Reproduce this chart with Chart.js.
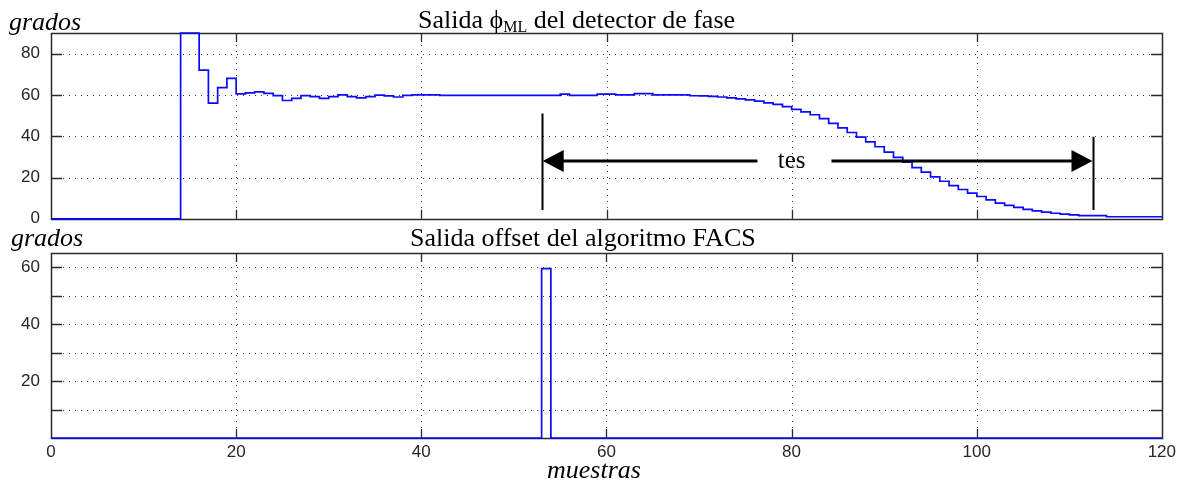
<!DOCTYPE html>
<html>
<head>
<meta charset="utf-8">
<script src="https://cdn.jsdelivr.net/npm/chart.js@4"></script>
<style>
  html, body { margin: 0; padding: 0; background: #fff; }
  body { width: 1180px; height: 484px; position: relative; overflow: hidden; }
  canvas { position: absolute; left: 0; }
  #c1 { top: 0; z-index: 1; }
  #c2 { top: 225px; z-index: 2; }
</style>
</head>
<body>
<canvas id="c1" width="1180" height="240"></canvas>
<canvas id="c2" width="1180" height="259"></canvas>
<script>
// ---- Data (sample index where each step starts, value held until next sample) ----
const samplesTop = [0, 14, 16, 17, 18, 19, 20, 21, 22, 23, 24, 25, 26, 27, 28, 29, 30, 31, 32, 33, 34, 35, 36, 37, 38, 39, 40, 42, 55, 56, 59, 61, 63, 65, 69, 70, 71, 72, 73, 74, 75, 76, 77, 78, 79, 80, 81, 82, 83, 84, 85, 86, 87, 88, 89, 90, 91, 92, 93, 94, 95, 96, 97, 98, 99, 100, 101, 102, 103, 104, 105, 106, 107, 108, 109, 110, 111, 114, 120];
const valuesTop  = [0, 90, 72, 56, 63.5, 68, 60.5, 61, 61.5, 60.8, 59.7, 57.3, 58.3, 59.7, 59.2, 58.3, 59.2, 60, 59.2, 58.6, 59.2, 59.9, 59.5, 59, 59.8, 60, 60, 59.8, 60.4, 59.8, 60.4, 60, 60.6, 60, 59.6, 59.5, 59.3, 59.0, 58.6, 58.1, 57.6, 57.0, 56.2, 55.4, 54.3, 53.0, 51.8, 50.4, 48.5, 46.2, 44.0, 41.8, 39.6, 37.3, 34.9, 32.3, 29.8, 27.4, 24.8, 22.6, 20.3, 18.2, 16.1, 14.2, 12.4, 10.8, 9.2, 7.6, 6.5, 5.5, 4.6, 3.8, 3.2, 2.7, 2.3, 1.9, 1.5, 1.0, 1.0];

const samplesBottom = [0, 53, 54, 120];
const valuesBottom  = [0, 59.5, 0, 0];

const xTicks = [0, 20, 40, 60, 80, 100, 120];
const yTicksTop = [0, 20, 40, 60, 80];
const yTicksBottom = [10, 20, 30, 40, 50, 60];
const yLabelsBottom = [20, 40, 60];

// "tes" annotation (data units of the top plot)
const tesBarX = [53, 112.6];
const tesBarTop = [51, 39.7];
const tesBarBottom = 4.3;
const tesArrowY = 28;
const tesArrowGap = [76.3, 84.3];
const tesLabelX = 80.0;

const topTitle = ['Salida ', '\u03D5', 'ML', ' del detector de fase'];
const bottomTitle = 'Salida offset del algoritmo FACS';
const yAxisTitle = 'grados';
const xAxisTitle = 'muestras';

// ---- helpers ----
const toPoints = (xs, ys) => xs.map((x, i) => ({ x, y: ys[i] }));
const SERIF = '"Liberation Serif", "Times New Roman", "DejaVu Serif", serif';
const SANS = '"Liberation Sans", Arial, sans-serif';

const matlabAxes = {
  id: 'matlabAxes',
  beforeDatasetsDraw(chart) {
    const { ctx, chartArea: a, scales: { x, y } } = chart;
    ctx.save();
    // dotted grid
    ctx.strokeStyle = '#3a3a3a';
    ctx.lineWidth = 1;
    ctx.setLineDash([1, 5]);
    ctx.beginPath();
    x.ticks.forEach(t => {
      if (t.value <= x.min || t.value >= x.max) return;
      const px = Math.round(x.getPixelForValue(t.value)) + 0.5;
      ctx.moveTo(px, a.top); ctx.lineTo(px, a.bottom);
    });
    y.ticks.forEach(t => {
      if (t.value <= y.min || t.value >= y.max) return;
      const py = Math.round(y.getPixelForValue(t.value)) + 0.5;
      ctx.moveTo(a.left, py); ctx.lineTo(a.right, py);
    });
    ctx.stroke();
    ctx.setLineDash([]);
    // tick marks pointing inward
    ctx.strokeStyle = '#2a2a2a';
    ctx.lineWidth = 1.3;
    ctx.beginPath();
    const tl = 9;
    x.ticks.forEach(t => {
      if (t.value <= x.min || t.value >= x.max) return;
      const px = Math.round(x.getPixelForValue(t.value)) + 0.5;
      ctx.moveTo(px, a.top); ctx.lineTo(px, a.top + tl);
      ctx.moveTo(px, a.bottom); ctx.lineTo(px, a.bottom - tl);
    });
    y.ticks.forEach(t => {
      if (t.value <= y.min || t.value >= y.max) return;
      const py = Math.round(y.getPixelForValue(t.value)) + 0.5;
      ctx.moveTo(a.left, py); ctx.lineTo(a.left + tl + 2, py);
      ctx.moveTo(a.right, py); ctx.lineTo(a.right - tl - 2, py);
    });
    ctx.stroke();
    // frame
    ctx.strokeStyle = '#2a2a2a';
    ctx.lineWidth = 1.5;
    ctx.strokeRect(Math.round(a.left) + 0.5, Math.round(a.top) + 0.5,
                   Math.round(a.right - a.left), Math.round(a.bottom - a.top));
    ctx.restore();
  }
};

const topTexts = {
  id: 'topTexts',
  afterDraw(chart) {
    const { ctx, scales: { x, y } } = chart;
    ctx.save();
    ctx.fillStyle = '#000';
    ctx.textBaseline = 'alphabetic';
    ctx.textAlign = 'left';
    ctx.font = 'italic 26px ' + SERIF;
    ctx.fillText(yAxisTitle, 9, 30);
    // title with subscript
    const big = '26px ' + SERIF, small = '16px ' + SERIF;
    let cx = 418;
    const base = 28;
    ctx.font = big; ctx.fillText(topTitle[0], cx, base); cx += ctx.measureText(topTitle[0]).width;
    ctx.fillText(topTitle[1], cx, base); cx += ctx.measureText(topTitle[1]).width;
    ctx.font = small; ctx.fillText(topTitle[2], cx, base + 4); cx += ctx.measureText(topTitle[2]).width;
    ctx.font = big; ctx.fillText(topTitle[3], cx, base);

    // tes annotation
    ctx.strokeStyle = '#000';
    ctx.fillStyle = '#000';
    ctx.lineWidth = 2;
    ctx.beginPath();
    tesBarX.forEach((bx, i) => {
      const px = Math.round(x.getPixelForValue(bx)) + 0.5;
      ctx.moveTo(px, y.getPixelForValue(tesBarTop[i]));
      ctx.lineTo(px, y.getPixelForValue(tesBarBottom));
    });
    ctx.stroke();
    const ay = Math.round(y.getPixelForValue(tesArrowY));
    const xl = x.getPixelForValue(tesBarX[0]), xr = x.getPixelForValue(tesBarX[1]);
    const g0 = x.getPixelForValue(tesArrowGap[0]), g1 = x.getPixelForValue(tesArrowGap[1]);
    const hl = 22, hh = 11;
    ctx.lineWidth = 3;
    ctx.beginPath();
    ctx.moveTo(xl + hl - 2, ay); ctx.lineTo(g0, ay);
    ctx.moveTo(g1, ay); ctx.lineTo(xr - hl + 2, ay);
    ctx.stroke();
    ctx.beginPath();
    ctx.moveTo(xl + 1, ay); ctx.lineTo(xl + hl, ay - hh); ctx.lineTo(xl + hl, ay + hh); ctx.closePath();
    ctx.moveTo(xr - 1, ay); ctx.lineTo(xr - hl, ay - hh); ctx.lineTo(xr - hl, ay + hh); ctx.closePath();
    ctx.fill();
    ctx.font = '25px ' + SERIF;
    ctx.textAlign = 'center';
    ctx.textBaseline = 'middle';
    ctx.fillText('tes', x.getPixelForValue(tesLabelX), ay);
    ctx.restore();
  }
};

const bottomTexts = {
  id: 'bottomTexts',
  afterDraw(chart) {
    const { ctx } = chart;
    ctx.save();
    ctx.fillStyle = '#000';
    ctx.textBaseline = 'alphabetic';
    ctx.textAlign = 'left';
    ctx.font = 'italic 26px ' + SERIF;
    ctx.fillText(yAxisTitle, 11, 21);
    ctx.font = '26px ' + SERIF;
    ctx.fillText(bottomTitle, 410, 21);
    ctx.font = 'italic 26px ' + SERIF;
    ctx.textAlign = 'center';
    ctx.fillText(xAxisTitle, 594, 253);
    ctx.restore();
  }
};

function makeChart(id, xs, ys, yMax, yTicks, yLabelFn, showXLabels, padding, xAxisHeight, extraPlugins) {
  return new Chart(document.getElementById(id), {
    type: 'line',
    data: {
      datasets: [{
        data: toPoints(xs, ys),
        stepped: 'before',
        borderColor: '#0a0aff',
        borderWidth: 1.7,
        pointRadius: 0,
        fill: false,
        tension: 0,
        clip: 3
      }]
    },
    options: {
      responsive: false,
      animation: false,
      devicePixelRatio: 1,
      layout: { padding },
      plugins: { legend: { display: false }, tooltip: { enabled: false }, title: { display: false } },
      scales: {
        x: {
          type: 'linear', min: 0, max: 120,
          afterBuildTicks: s => { s.ticks = xTicks.map(v => ({ value: v })); },
          afterFit: s => { s.height = xAxisHeight; },
          grid: { display: false, drawTicks: false },
          border: { display: false },
          ticks: {
            display: showXLabels, padding: 4, color: '#262626', maxRotation: 0, autoSkip: false,
            font: { family: SANS, size: 17 }
          }
        },
        y: {
          type: 'linear', min: 0, max: yMax,
          afterBuildTicks: s => { s.ticks = yTicks.map(v => ({ value: v })); },
          afterFit: s => { s.width = 51; },
          grid: { display: false, drawTicks: false },
          border: { display: false },
          ticks: {
            padding: 11, color: '#262626', autoSkip: false,
            font: { family: SANS, size: 17 },
            callback: yLabelFn
          }
        }
      }
    },
    plugins: [matlabAxes, ...extraPlugins]
  });
}

makeChart('c1', samplesTop, valuesTop, 90, yTicksTop, v => String(v), false,
          { left: 0, right: 18, top: 33, bottom: 6 }, 0, [topTexts]);
makeChart('c2', samplesBottom, valuesBottom, 65, yTicksBottom,
          v => (yLabelsBottom.includes(v) ? String(v) : ''), true,
          { left: 0, right: 18, top: 28, bottom: 0 }, 46, [bottomTexts]);
</script>
</body>
</html>
